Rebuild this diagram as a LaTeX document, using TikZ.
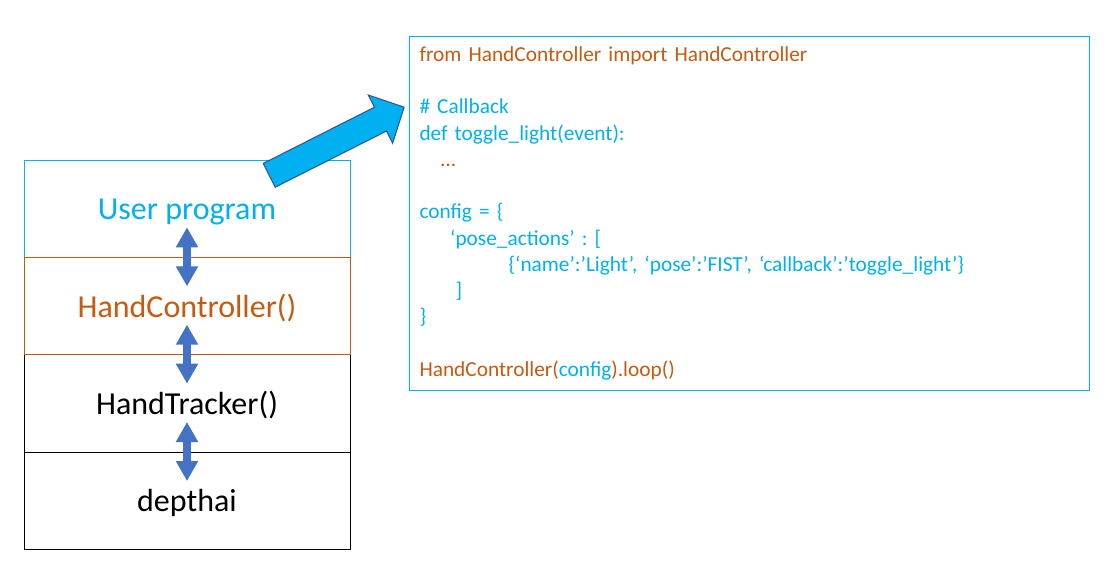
\documentclass[tikz,border=0pt]{standalone}
\usepackage{fontspec}
\setmainfont{Carlito}
\usetikzlibrary{arrows.meta,positioning}
\definecolor{sky}{HTML}{00B0F0}
\definecolor{rust}{HTML}{C55A11}
\definecolor{steel}{HTML}{4472C4}
\definecolor{navy}{HTML}{2F528F}
\frenchspacing

\begin{document}
\begin{tikzpicture}[
  layer/.style={draw,line width=0.75pt,minimum width=244.5pt,minimum height=73pt,outer sep=0pt,inner sep=0pt,text height=22pt,text depth=5.5pt,font=\fontsize{24}{29}\selectfont},
  link/.style={{Triangle[width=15.75pt,length=15pt]}-{Triangle[width=15.75pt,length=15pt]},line width=6pt,steel},
  code/.style={draw=sky,line width=0.75pt,minimum width=510pt,minimum height=264pt,text width=495pt,inner sep=7.5pt,align=left,font=\fontsize{16}{19.7}\selectfont}]
\useasboundingbox (0,0) rectangle (836.25pt,-426pt);
% layer stack
\node[layer,draw=sky,text=sky,anchor=north west] (user) at (18pt,-120pt) {User program};
\node[layer,below=73pt of user] (tracker) {HandTracker()};
\node[layer,below=0pt of tracker] (dai) {depthai};
\node[layer,draw=rust,text=rust,below=0pt of user] (hc) {HandController()};
\draw[link] ([yshift=22.5pt]user.south) -- ([yshift=-21.75pt]hc.north);
\draw[link] ([yshift=22.5pt]hc.south) -- ([yshift=-21.75pt]tracker.north);
\draw[link] ([yshift=22.5pt]tracker.south) -- ([yshift=-21.75pt]dai.north);
% big arrow
\begin{scope}[shift={(201.9pt,-131.5pt)},rotate=26.8]
\filldraw[fill=sky,draw=navy,line width=0.75pt] (0,-10pt) -- (93.5pt,-10pt) -- (93.5pt,-20.25pt) -- (113.4pt,0) -- (93.5pt,20.25pt) -- (93.5pt,10pt) -- (0,10pt) -- cycle;
\end{scope}
% code sample
\node[code,anchor=north west] (src) at (306.75pt,-27pt) {%
\textcolor{rust}{from HandController import HandController}\\
\mbox{}\\
\textcolor{sky}{\# Callback}\\
\textcolor{sky}{def toggle\_light(event):}\\
\hspace*{16pt}\textcolor{rust}{…}\\
\mbox{}\\
\textcolor{sky}{config = \{}\\
\hspace*{23pt}\textcolor{sky}{‘pose\_actions’ : [}\\
\hspace*{66.75pt}\textcolor{sky}{\{‘name’:’Light’, ‘pose’:’FIST’, ‘callback’:’toggle\_light’\}}\\
\hspace*{27pt}\textcolor{sky}{]}\\
\textcolor{sky}{\}}\\
\mbox{}\\
\textcolor{rust}{HandController(}\textcolor{sky}{config}\textcolor{rust}{).loop()}};
\end{tikzpicture}
\end{document}
